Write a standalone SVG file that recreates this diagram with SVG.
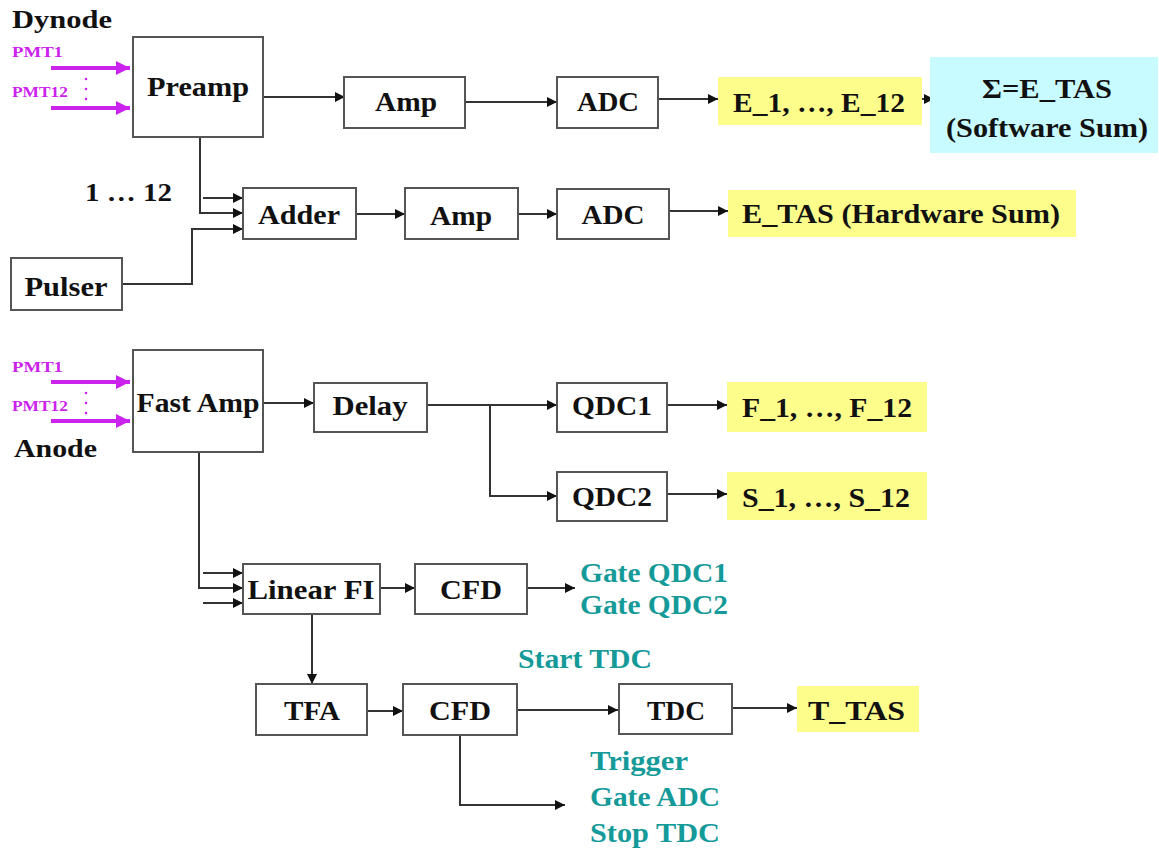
<svg xmlns="http://www.w3.org/2000/svg" width="1159" height="849" viewBox="0 0 1159 849" font-family="'Liberation Serif', 'Times New Roman', Times, serif">
<style>
text{font-family:'Liberation Serif','Times New Roman',Times,serif;font-weight:bold;fill:#111}
.box{fill:#fff;stroke:#555;stroke-width:2}
.yel{fill:#fdfd8c}
.cyan{fill:#c8fbff}
.t{font-size:27px;text-anchor:middle}
.lbl{font-size:28px}
.teal{fill:#159a9a;font-size:28px}
.pmt{fill:#cc22ee;font-size:14px}
.ln{fill:none;stroke:#333;stroke-width:2;marker-end:url(#ah)}
.mg{fill:none;stroke:#cc22ee;stroke-width:4;marker-end:url(#mh)}
.dot{fill:#cc22ee}
</style>
<defs>
<marker id="ah" viewBox="0 0 10 10" refX="10" refY="5" markerWidth="5" markerHeight="5" orient="auto" markerUnits="strokeWidth"><path d="M0,0 L10,5 L0,10 z" fill="#111"/></marker>
<marker id="mh" viewBox="0 0 10 10" refX="10" refY="5" markerWidth="3.5" markerHeight="3.5" orient="auto" markerUnits="strokeWidth"><path d="M0,0 L10,5 L0,10 z" fill="#cc22ee"/></marker>
</defs>
<rect width="1159" height="849" fill="#fff"/>

<g id="labels">
<text x="12" y="28" font-size="26" textLength="100" lengthAdjust="spacingAndGlyphs">Dynode</text>
<text x="14" y="457" font-size="26" textLength="83" lengthAdjust="spacingAndGlyphs">Anode</text>
<text class="pmt" x="12" y="57" textLength="51" lengthAdjust="spacingAndGlyphs">PMT1</text>
<text class="pmt" x="12" y="97" textLength="56" lengthAdjust="spacingAndGlyphs">PMT12</text>
<text class="pmt" x="12" y="372" textLength="51" lengthAdjust="spacingAndGlyphs">PMT1</text>
<text class="pmt" x="12" y="411" textLength="56" lengthAdjust="spacingAndGlyphs">PMT12</text>
<circle class="dot" cx="86" cy="79" r="1.3"/><circle class="dot" cx="86" cy="89" r="1.3"/><circle class="dot" cx="86" cy="99" r="1.3"/>
<circle class="dot" cx="86" cy="393" r="1.3"/><circle class="dot" cx="86" cy="403" r="1.3"/><circle class="dot" cx="86" cy="413" r="1.3"/>
<text x="85" y="201" font-size="26" textLength="87" lengthAdjust="spacingAndGlyphs">1 … 12</text>
</g>

<g id="connectors">
<path class="mg" d="M51,68 H130"/>
<path class="mg" d="M51,108 H130"/>
<path class="mg" d="M51,382 H130"/>
<path class="mg" d="M51,421 H130"/>
<path class="ln" d="M263,97 H345"/>
<path class="ln" d="M465,102 H557"/>
<path class="ln" d="M658,99 H718"/>
<path class="ln" d="M922,99 H934"/>
<path class="ln" d="M200,137 V213 H243"/>
<path class="ln" d="M203,198 H243"/>
<path class="ln" d="M122,284 H192 V229 H243"/>
<path class="ln" d="M356,214 H405"/>
<path class="ln" d="M518,214 H557"/>
<path class="ln" d="M669,211 H728"/>
<path class="ln" d="M263,403 H314"/>
<path class="ln" d="M427,405 H557"/>
<path class="ln" d="M490,405 V496 H557"/>
<path class="ln" d="M667,405 H727"/>
<path class="ln" d="M667,494 H727"/>
<path class="ln" d="M199,452 V588 H243"/>
<path class="ln" d="M203,573 H243"/>
<path class="ln" d="M203,603 H243"/>
<path class="ln" d="M380,588 H415"/>
<path class="ln" d="M527,588 H575"/>
<path class="ln" d="M312,614 V684"/>
<path class="ln" d="M367,711 H403"/>
<path class="ln" d="M517,710 H618"/>
<path class="ln" d="M733,708 H797"/>
<path class="ln" d="M460,735 V805 H565"/>
</g>

<g id="preamp"><rect class="box" x="133" y="37" width="130" height="100"/><text class="t" x="198" y="96" textLength="102" lengthAdjust="spacingAndGlyphs">Preamp</text></g>
<g id="amp1"><rect class="box" x="344" y="77" width="121" height="51"/><text class="t" x="406" y="111" textLength="62" lengthAdjust="spacingAndGlyphs">Amp</text></g>
<g id="adc1"><rect class="box" x="557" y="77" width="101" height="51"/><text class="t" x="608" y="111" textLength="62" lengthAdjust="spacingAndGlyphs">ADC</text></g>
<g id="e-list"><rect class="yel" x="718" y="77" width="204" height="48"/><text class="lbl" x="733" y="112" textLength="172" lengthAdjust="spacingAndGlyphs">E_1, …, E_12</text></g>
<g id="software-sum"><rect class="cyan" x="930" y="57" width="228" height="96"/>
<text class="t" x="1047" y="98" font-size="28" textLength="130" lengthAdjust="spacingAndGlyphs">Σ=E_TAS</text>
<text class="t" x="1047" y="137" font-size="26" textLength="202" lengthAdjust="spacingAndGlyphs">(Software Sum)</text></g>
<g id="adder"><rect class="box" x="243" y="188" width="113" height="51"/><text class="t" x="299" y="224" textLength="82" lengthAdjust="spacingAndGlyphs">Adder</text></g>
<g id="amp2"><rect class="box" x="405" y="188" width="113" height="51"/><text class="t" x="461" y="225" textLength="62" lengthAdjust="spacingAndGlyphs">Amp</text></g>
<g id="adc2"><rect class="box" x="557" y="189" width="112" height="50"/><text class="t" x="613" y="224" textLength="63" lengthAdjust="spacingAndGlyphs">ADC</text></g>
<g id="hardware-sum"><rect class="yel" x="728" y="190" width="348" height="47"/><text class="lbl" x="742" y="223" textLength="318" lengthAdjust="spacingAndGlyphs">E_TAS (Hardware Sum)</text></g>
<g id="pulser"><rect class="box" x="11" y="258" width="111" height="52"/><text class="t" x="66" y="296" textLength="83" lengthAdjust="spacingAndGlyphs">Pulser</text></g>

<g id="fast-amp"><rect class="box" x="133" y="350" width="130" height="102"/><text class="t" x="198" y="412" textLength="123" lengthAdjust="spacingAndGlyphs">Fast Amp</text></g>
<g id="delay"><rect class="box" x="314" y="383" width="113" height="49"/><text class="t" x="370" y="415" textLength="75" lengthAdjust="spacingAndGlyphs">Delay</text></g>
<g id="qdc1"><rect class="box" x="557" y="383" width="110" height="49"/><text class="t" x="612" y="415" textLength="80" lengthAdjust="spacingAndGlyphs">QDC1</text></g>
<g id="qdc2"><rect class="box" x="557" y="472" width="110" height="49"/><text class="t" x="612" y="506" textLength="80" lengthAdjust="spacingAndGlyphs">QDC2</text></g>
<g id="f-list"><rect class="yel" x="727" y="382" width="200" height="50"/><text class="lbl" x="742" y="417" textLength="170" lengthAdjust="spacingAndGlyphs">F_1, …, F_12</text></g>
<g id="s-list"><rect class="yel" x="727" y="472" width="200" height="48"/><text class="lbl" x="742" y="507" textLength="168" lengthAdjust="spacingAndGlyphs">S_1, …, S_12</text></g>

<g id="linear-fi"><rect class="box" x="243" y="564" width="137" height="50"/><text class="t" x="311" y="599" textLength="127" lengthAdjust="spacingAndGlyphs">Linear FI</text></g>
<g id="cfd1"><rect class="box" x="415" y="564" width="112" height="50"/><text class="t" x="471" y="599" textLength="62" lengthAdjust="spacingAndGlyphs">CFD</text></g>
<g id="gate-qdc"><text class="teal" x="580" y="582" textLength="148" lengthAdjust="spacingAndGlyphs">Gate QDC1</text><text class="teal" x="580" y="614" textLength="148" lengthAdjust="spacingAndGlyphs">Gate QDC2</text></g>
<g id="start-tdc"><text class="teal" x="518" y="668" textLength="134" lengthAdjust="spacingAndGlyphs">Start TDC</text></g>
<g id="tfa"><rect class="box" x="256" y="684" width="111" height="51"/><text class="t" x="312" y="720" textLength="56" lengthAdjust="spacingAndGlyphs">TFA</text></g>
<g id="cfd2"><rect class="box" x="403" y="684" width="114" height="51"/><text class="t" x="460" y="720" textLength="62" lengthAdjust="spacingAndGlyphs">CFD</text></g>
<g id="tdc"><rect class="box" x="619" y="684" width="113" height="50"/><text class="t" x="676" y="720" textLength="58" lengthAdjust="spacingAndGlyphs">TDC</text></g>
<g id="t-tas"><rect class="yel" x="797" y="686" width="122" height="46"/><text class="lbl" x="808" y="720" textLength="97" lengthAdjust="spacingAndGlyphs">T_TAS</text></g>
<g id="trigger-out"><text class="teal" x="590" y="770" textLength="98" lengthAdjust="spacingAndGlyphs">Trigger</text><text class="teal" x="590" y="806" textLength="130" lengthAdjust="spacingAndGlyphs">Gate ADC</text><text class="teal" x="590" y="842" textLength="130" lengthAdjust="spacingAndGlyphs">Stop TDC</text></g>
</svg>
